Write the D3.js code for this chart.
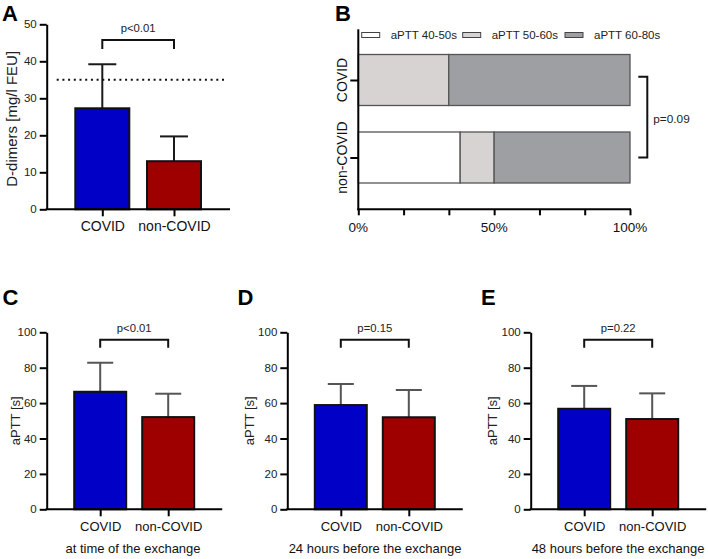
<!DOCTYPE html>
<html><head><meta charset="utf-8">
<script src="https://cdn.jsdelivr.net/npm/d3@7"></script>
<style>body{margin:0;background:#fff}svg{display:block;font-family:"Liberation Sans",Arial,sans-serif}</style>
</head><body><svg id="c" width="708" height="559"></svg>
<script>
// ---- data ----
const categories = ["COVID", "non-COVID"];
const ddimerMean = [27.3, 13.0];
const ddimerSD = [11.9, 6.7];
const ddimerCutoff = 35;
const ddimerTicks = [0, 10, 20, 30, 40, 50];
const apttRanges = ["aPTT 40-50s", "aPTT 50-60s", "aPTT 60-80s"];
const apttShareCovid = [0, 33.3, 66.7];
const apttShareNonCovid = [37.5, 12.5, 50.0];
const percentTicks = [0, 50, 100];
const percentMinorTicks = [0, 16.67, 33.33, 50, 66.67, 83.33, 100];
const apttTicks = [0, 20, 40, 60, 80, 100];
const apttExchangeMean = [66.4, 52.1];
const apttExchangeSD = [16.4, 13.2];
const aptt24hMean = [58.9, 52.0];
const aptt24hSD = [11.9, 15.4];
const aptt48hMean = [56.8, 51.0];
const aptt48hSD = [12.9, 14.5];
const pLabels = ["p<0.01", "p=0.09", "p<0.01", "p=0.15", "p=0.22"];
const subtitles = ["at time of the exchange", "24 hours before the exchange", "48 hours before the exchange"];
const panelLetters = ["A", "B", "C", "D", "E"];

// ---- drawing ----
const svg = d3.select("#c");
const barColors = ["#0000c6", "#9e0000"];
const segColors = ["#ffffff", "#d7d3d3", "#9e9fa3"];

function barPanel(o) {
  const g = svg.append("g");
  const y = d3.scaleLinear().domain([0, o.max]).range([o.yBot, o.yTop]);
  const x = d3.scalePoint().domain(categories).range([o.x0 + o.c1, o.x0 + o.c2]);
  // error bars
  categories.forEach((c, i) => {
    const cx = x(c), top = y(o.mean[i] + o.sd[i]);
    g.append("line").attr("x1", cx).attr("x2", cx).attr("y1", y(o.mean[i])).attr("y2", top)
      .attr("stroke", o.errColor).attr("stroke-width", 2);
    g.append("line").attr("x1", cx - o.cap / 2).attr("x2", cx + o.cap / 2).attr("y1", top).attr("y2", top)
      .attr("stroke", o.errColor).attr("stroke-width", 2);
  });
  // bars
  g.selectAll("rect.bar").data(o.mean).join("rect").attr("class", "bar")
    .attr("x", (d, i) => x(categories[i]) - o.barW / 2)
    .attr("width", o.barW)
    .attr("y", d => y(d))
    .attr("height", d => y(0) - y(d))
    .attr("fill", (d, i) => barColors[i])
    .attr("stroke", "#111").attr("stroke-width", 2);
  // y axis
  const ya = g.append("g").attr("transform", `translate(${o.x0},0)`)
    .call(d3.axisLeft(y).tickValues(o.ticks).tickSize(7).tickSizeOuter(0).tickPadding(3));
  ya.select(".domain").attr("stroke", "#000").attr("stroke-width", 2);
  ya.selectAll(".tick line").attr("stroke", "#000").attr("stroke-width", 2);
  ya.selectAll(".tick text").attr("font-size", 11.5).attr("font-family", "Liberation Sans, Arial").attr("fill", "#222");
  // x axis
  const xa = g.append("g").attr("transform", `translate(0,${o.yBot})`)
    .call(d3.axisBottom(x).tickSize(7).tickSizeOuter(0).tickPadding(o.catPad));
  xa.select(".domain").attr("d", `M${o.x0 - 1},0H${o.xEnd}`).attr("stroke", "#000").attr("stroke-width", 2);
  xa.selectAll(".tick line").attr("stroke", "#000").attr("stroke-width", 2);
  xa.selectAll(".tick text").attr("font-size", o.catFont).attr("font-family", "Liberation Sans, Arial").attr("fill", "#111");
  // y title
  g.append("text").attr("transform", `translate(${o.titleX},${(o.yTop + o.yBot) / 2 + o.titleDy}) rotate(-90)`)
    .attr("text-anchor", "middle").attr("font-size", o.titleFont).attr("fill", "#222").text(o.title);
  // bracket
  const by = o.bracketY;
  g.append("path").attr("d", `M${x(categories[0])},${by + o.leg}V${by}H${x(categories[1])}V${by + o.leg}`)
    .attr("fill", "none").attr("stroke", "#111").attr("stroke-width", 2);
  g.append("text").attr("x", (x(categories[0]) + x(categories[1])) / 2).attr("y", o.pY)
    .attr("text-anchor", "middle").attr("font-size", 11.3).attr("fill", "#222").text(o.p);
  if (o.sub) {
    g.append("text").attr("x", o.subX).attr("y", 553.3).attr("text-anchor", "middle")
      .attr("font-size", 13).attr("fill", "#111").text(o.sub);
  }
  return { g, x, y };
}

// Panel A
const pa = barPanel({ x0: 46.7, yTop: 24.3, yBot: 209.3, xEnd: 230, max: 50, ticks: ddimerTicks,
  c1: 55.6, c2: 127.3, barW: 54, cap: 28, mean: ddimerMean, sd: ddimerSD, errColor: "#1a1a1a",
  catFont: 14, catPad: 5, title: "D-dimers [mg/l FEU]", titleX: 17, titleDy: 2, titleFont: 15,
  bracketY: 40, leg: 9, pY: 32, p: pLabels[0] });
pa.g.append("line").attr("x1", 56.7).attr("x2", 227).attr("y1", pa.y(ddimerCutoff)).attr("y2", pa.y(ddimerCutoff))
  .attr("stroke", "#111").attr("stroke-width", 2).attr("stroke-dasharray", "2,3.7");

// Panels C, D, E
const apttPanels = [
  { x0: 46.7, mean: apttExchangeMean, sd: apttExchangeSD, titleX: 19.5, subX: 133, p: pLabels[2] },
  { x0: 287.3, mean: aptt24hMean, sd: aptt24hSD, titleX: 253.5, subX: 375, p: pLabels[3] },
  { x0: 530.7, mean: aptt48hMean, sd: aptt48hSD, titleX: 496.5, subX: 618, p: pLabels[4] }
];
apttPanels.forEach((p, i) => {
  barPanel({ x0: p.x0, yTop: 332.3, yBot: 509.3, xEnd: p.x0 + 175.5, max: 100, ticks: apttTicks,
    c1: 53.5, c2: 121.5, barW: 52, cap: 26, mean: p.mean, sd: p.sd, errColor: "#555",
    catFont: 13, catPad: 5.5, title: "aPTT [s]", titleX: p.titleX, titleDy: 0, titleFont: 13,
    bracketY: 339.8, leg: 8, pY: 331.5, p: p.p, sub: subtitles[i], subX: p.subX });
});

// Panel B
(function () {
  const g = svg.append("g");
  const x = d3.scaleLinear().domain([0, 100]).range([358.3, 630]);
  const y = d3.scalePoint().domain(categories).range([80, 157.5]);
  const barH = 51;
  const rows = [apttShareCovid, apttShareNonCovid].map((v, i) => {
    const r = { cat: categories[i] };
    apttRanges.forEach((k, j) => r[k] = v[j]);
    return r;
  });
  const stacked = d3.stack().keys(apttRanges)(rows);
  stacked.forEach((layer, j) => {
    g.selectAll(null).data(layer.filter(d => d[1] - d[0] > 0)).join("rect")
      .attr("x", d => x(d[0])).attr("width", d => x(d[1]) - x(d[0]))
      .attr("y", d => y(d.data.cat) - barH / 2).attr("height", barH)
      .attr("fill", segColors[j]).attr("stroke", "#555").attr("stroke-width", 1.3);
  });
  // axes
  const ya = g.append("g").attr("transform", "translate(358.3,0)")
    .call(d3.axisLeft(y).tickSize(8).tickSizeOuter(0).tickFormat(""));
  ya.select(".domain").attr("d", "M0,29.3V210.3").attr("stroke", "#000").attr("stroke-width", 2);
  ya.selectAll(".tick line").attr("stroke", "#000").attr("stroke-width", 2);
  categories.forEach(c => {
    g.append("text").attr("transform", `translate(347,${y(c)}) rotate(-90)`)
      .attr("text-anchor", "middle").attr("font-size", 14).attr("fill", "#111").text(c);
  });
  const xa = g.append("g").attr("transform", "translate(0,209.3)")
    .call(d3.axisBottom(x).tickValues(percentMinorTicks).tickSize(6).tickSizeOuter(0).tickFormat(""));
  xa.select(".domain").attr("d", "M357.3,0H631").attr("stroke", "#000").attr("stroke-width", 2);
  xa.selectAll(".tick line").attr("stroke", "#000").attr("stroke-width", 2);
  percentTicks.forEach(t => {
    g.append("text").attr("x", x(t)).attr("y", 231.7).attr("text-anchor", "middle")
      .attr("font-size", 13.5).attr("fill", "#111").text(t + "%");
  });
  // legend
  const legX = [361.7, 462.7, 565];
  apttRanges.forEach((k, j) => {
    g.append("rect").attr("x", legX[j]).attr("y", 32.5).attr("width", 18).attr("height", 5)
      .attr("fill", segColors[j]).attr("stroke", "#444").attr("stroke-width", 1);
    g.append("text").attr("x", legX[j] + 29).attr("y", 35).attr("dominant-baseline", "central")
      .attr("font-size", 11.5).attr("fill", "#222").text(k);
  });
  // bracket
  g.append("path").attr("d", `M638.3,${y(categories[0]) - 3.3}H647.3V${y(categories[1])}H638.3`)
    .attr("fill", "none").attr("stroke", "#111").attr("stroke-width", 2);
  g.append("text").attr("x", 653.3).attr("y", 118.5).attr("dominant-baseline", "central")
    .attr("font-size", 11.8).attr("fill", "#222").text(pLabels[1]);
})();

// panel letters
const letterPos = [[2, 20.5], [335, 20.5], [2.5, 305], [237.5, 305], [481, 305]];
panelLetters.forEach((l, i) => {
  svg.append("text").attr("x", letterPos[i][0]).attr("y", letterPos[i][1])
    .attr("font-size", 22).attr("font-weight", "bold").attr("fill", "#000").text(l);
});
</script></body></html>
